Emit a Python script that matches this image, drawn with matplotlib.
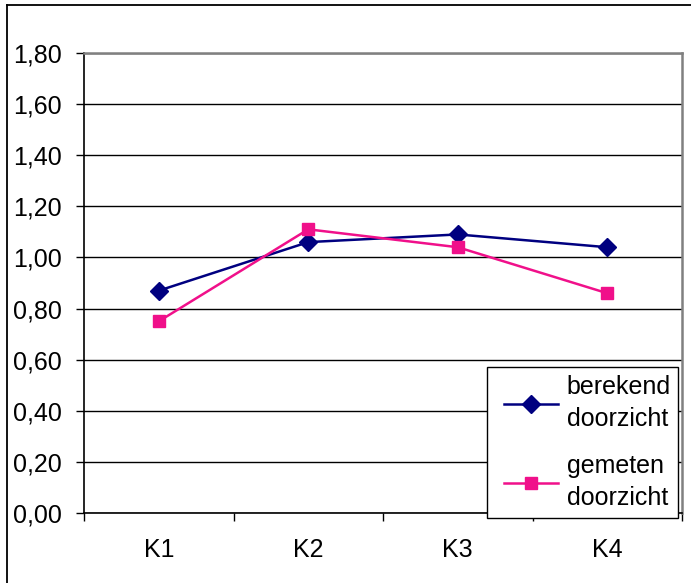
import matplotlib
matplotlib.use("Agg")
import matplotlib.pyplot as plt
from matplotlib.lines import Line2D
from matplotlib.legend_handler import HandlerLine2D

plt.rcParams['font.family'] = ['Liberation Sans', 'DejaVu Sans']

categories = ["K1", "K2", "K3", "K4"]
berekend = [0.87, 1.06, 1.09, 1.04]
gemeten = [0.75, 1.11, 1.04, 0.86]
y_ticks = [0.0, 0.2, 0.4, 0.6, 0.8, 1.0, 1.2, 1.4, 1.6, 1.8]
y_labels = ["0,00", "0,20", "0,40", "0,60", "0,80", "1,00", "1,20", "1,40", "1,60", "1,80"]
series_labels = ["berekend\ndoorzicht", "gemeten\ndoorzicht"]

W, H = 691, 583
FS = 18
fig = plt.figure(figsize=(W / 100, H / 100), dpi=100)
fig.patch.set_facecolor("white")

# chart area frame (top and left edges)
fig.add_artist(Line2D([7 / W, 7 / W], [0, 1 - 5 / H], color="black", lw=1.3))
fig.add_artist(Line2D([7 / W, 1], [1 - 5 / H, 1 - 5 / H], color="black", lw=1.3))

left, right, top, bottom = 84, 682, 53, 513
ax = fig.add_axes([left / W, 1 - bottom / H, (right - left) / W, (bottom - top) / H])

x = list(range(len(categories)))
l1, = ax.plot(x, berekend, color="#000080", lw=1.8, marker="D", markersize=9,
              label=series_labels[0], zorder=3)
l2, = ax.plot(x, gemeten, color="#F0108A", lw=1.8, marker="s", markersize=9,
              label=series_labels[1], zorder=3)

ax.set_xlim(-0.5, len(categories) - 0.5)
ax.set_ylim(0, 1.8)

ax.set_yticks(y_ticks)
ax.set_yticklabels(y_labels, fontsize=FS)
ax.yaxis.grid(True, color="black", lw=1)
ax.set_axisbelow(True)

# category labels between boundary ticks
ax.set_xticks([i - 0.5 for i in range(len(categories) + 1)])
ax.set_xticklabels([])
ax.set_xticks(x, minor=True)
ax.set_xticklabels(categories, minor=True, fontsize=FS)
ax.tick_params(axis="x", which="minor", length=0, pad=18)
ax.tick_params(axis="x", which="major", direction="out", length=6, width=1)
ax.tick_params(axis="y", direction="out", length=6, width=1, pad=10)

for s in ("left", "bottom"):
    ax.spines[s].set_color("black")
    ax.spines[s].set_linewidth(1.2)
for s in ("top", "right"):
    ax.spines[s].set_color("#808080")
    ax.spines[s].set_linewidth(1.8)

handler = HandlerLine2D(xpad=0.4)
leg = ax.legend(loc="upper left", bbox_to_anchor=(487 / W, 1 - 367 / H),
                bbox_transform=fig.transFigure, fontsize=FS, frameon=True,
                fancybox=False, edgecolor="black", framealpha=1,
                handlelength=2.52, handletextpad=0.36, labelspacing=0.9,
                borderpad=0.3, borderaxespad=0,
                handler_map={l1: handler, l2: handler})
leg.get_frame().set_linewidth(1.0)
for t in leg.get_texts():
    t.set_linespacing(1.45)

fig.savefig("out.png", dpi=100, facecolor="white")
